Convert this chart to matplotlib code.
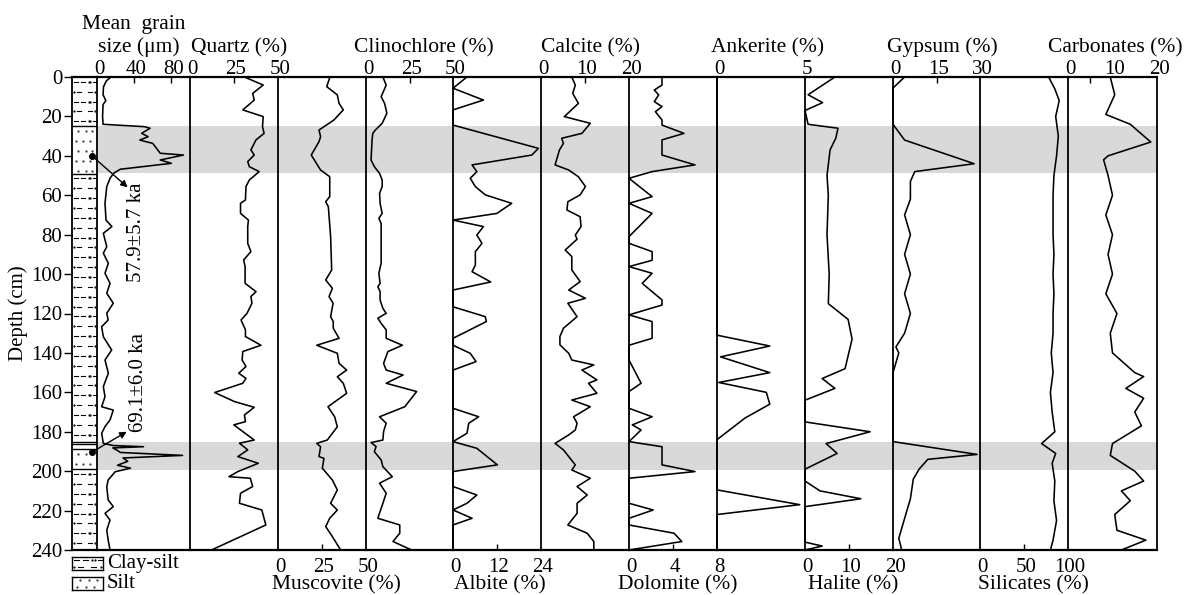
import matplotlib
matplotlib.use('Agg')
import matplotlib.pyplot as plt
from matplotlib.transforms import offset_copy

plt.rcParams['font.family'] = ['Liberation Serif', 'DejaVu Serif']

# ---------------- data ----------------
grain_depth = [0, 2, 5, 9, 12, 14, 20, 24, 25.2, 26, 28.6, 30.3, 32, 33.7, 36.2, 38.7, 39.6, 42.1, 43.8,
               46.8, 48.8, 51.4, 55.6, 64.1, 72.6, 75.9, 79.3, 86.1, 89.4, 94.5, 99.6, 104.7, 109.7, 114.8,
               119.9, 123.3, 126.7, 131.8, 138.5, 143.6, 150.3, 157.1, 162.2, 167.3, 169, 174, 177.4, 180.8,
               185.9, 187, 187.6, 188.2, 189.5, 190.5, 192, 193.3, 195, 197, 198.5, 200.3, 204.5, 207.9,
               214.6, 218, 221.4, 224.8, 229.9, 234.9, 240]
grain_size = [15, 10, 7, 6.5, 9.5, 6.5, 6, 6.5, 51, 57, 48, 55, 46, 60, 64, 68, 93, 68, 80,
              25, 18, 14, 10.5, 8.6, 9.7, 16, 6.8, 10.5, 6.8, 12.2, 8.6, 14, 10.5, 17.5,
              10.5, 12, 5, 6.8, 15.8, 8.6, 12.2, 6.8, 8.6, 5, 17.5, 14, 8.6, 5,
              6.8, 17.5, 50, 17, 22, 25, 92, 28, 33, 22, 36, 19.5, 12, 10.5,
              12, 17.5, 8.6, 14, 10.5, 12, 14]

quartz_depth = [0, 4.1, 8.3, 11.7, 16.7, 20.1, 25.2, 28.6, 31.9, 37.0, 39.6, 42.9, 45.5, 48.0, 52.3, 55.6,
                62.4, 64.1, 69.2, 72.6, 75.9, 84.4, 88.6, 92.8, 96.2, 104.7, 108.9, 111.4, 114.8, 119.9,
                123.3, 128.3, 131.7, 136.1, 139.3, 143.6, 146.9, 150.3, 152.9, 155.4, 160.1, 164.7, 167.6,
                171.5, 174.9, 176.5, 179.9, 184.2, 185.8, 189.2, 192.6, 196.0, 200.2, 202.8, 203.6, 207.8,
                211.2, 216.3, 219.7, 227.3, 240]
quartz = [30.9, 41.6, 35.6, 36.5, 30, 41.6, 41.2, 42.1, 37.5, 34.6, 36.5, 32.8, 33.7, 39.3, 33.7, 31.8,
          31.5, 28.7, 28.7, 33.2, 32.8, 32.8, 34.6, 30.5, 31.3, 31.3, 37.5, 34.6, 35.2, 32.4,
          29, 31.5, 31.5, 40.3, 30, 29.6, 31.8, 27.7, 31.8, 30, 14, 25.3, 36.5,
          30.9, 31.5, 24.9, 30, 36.5, 28.1, 32.8, 27.2, 38.8, 27.2, 22.1, 34.3, 35.6,
          28.7, 28.1, 40.8, 43.1, 12.2]

muscovite_depth = [0, 4.9, 9.1, 13.4, 16.7, 21.8, 26.9, 30.3, 32.8, 39.6, 42.9, 47.2, 50.6, 60.7, 63.3,
                   65.8, 81.0, 97.9, 103.0, 107.2, 111.4, 114.8, 121.6, 124.1, 127.5, 132.6, 136.1, 140.2,
                   145.3, 148.7, 152.1, 155.4, 160.5, 167.3, 172.4, 177.5, 184.2, 185.9, 187.6, 192.6, 193.5,
                   198.5, 204.5, 209.5, 216.3, 219.7, 223.9, 228.1, 233.2, 240]
muscovite = [29.5, 27.7, 33.7, 34.7, 37.1, 31.8, 23.3, 24.2, 23.3, 18.9, 21.2, 24.2, 29.4, 29.4, 27.1,
             28.6, 29.9, 30.5, 27.1, 30.9, 29, 31.3, 29.9, 31.4, 31.4, 34.7, 22, 33.7,
             34.7, 39, 33.7, 37.1, 39, 28.4, 32.2, 33.7, 28, 22, 24.2, 23.3, 26.1,
             25.2, 30.9, 33.7, 29.9, 33.7, 29.4, 27.1, 30.9, 35.6]

clino_depth = [0, 4.1, 10.0, 13.4, 18.4, 23.5, 26.9, 28.6, 31.9, 42.1, 45.5, 48.9, 52.3, 55.6, 59.0, 64.1,
               69.2, 71.7, 74.3, 77.6, 81.0, 94.5, 99.6, 104.7, 106.4, 108.9, 113.1, 117.4, 119.9, 122.4,
               125.0, 128.3, 132.6, 136.1, 139.3, 145.3, 148.7, 151.2, 155.4, 159.6, 167.3, 172.4, 175.7,
               179.9, 184.2, 185.5, 187.5, 190.1, 194.3, 197.7, 202.8, 206.1, 211.2, 216.3, 223.9, 227.3,
               231.5, 235.7, 240]
clinochlore = [9.7, 11.6, 8.7, 10.7, 12, 9.3, 5.4, 3.9, 3.5, 2.9, 4.8, 7.8, 9.3, 9.3, 7.8, 8.1,
               9.3, 7.4, 8.7, 8.7, 8.7, 8.7, 7.4, 8.1, 6.8, 8.1, 8.1, 9.7, 11.6, 6.8,
               8.7, 11.6, 11.6, 20.9, 12.6, 10.1, 11.6, 21.3, 11.6, 29.1, 22.3, 7.8, 11.6,
               10.1, 9.7, 2.9, 5.8, 4.8, 8.7, 9.7, 15.1, 7.8, 11.6, 9.7, 6.8, 19.4,
               19.4, 15.5, 26.2]

albite_depth = [0, 5.7, 11.7, 16.7, 24.4, 36.2, 39.6, 44.6, 48.0, 51.4, 55.6, 59.8, 64.1, 69.2, 72.6, 75.9,
                80.2, 84.4, 88.6, 95.4, 98.8, 104.0, 108.1, 116.6, 121.6, 124.1, 132.6, 136.1, 140.2, 144.4,
                148.7, 168.1, 172.4, 175.7, 180.8, 185.0, 188.4, 196.8, 200.2, 207.8, 212.1, 216.3, 219.7,
                223.9, 227.3, 240]
albite = [3.8, 0, 8.3, 0, 0, 23.3, 21.5, 5.2, 6.5, 4.7, 6.1, 8.8, 16, 12, 0, 8.3,
          6.5, 7.9, 6.1, 6.1, 5.2, 10.3, 0, 0, 8.8, 9.1, 0, 0, 4.7, 6.3,
          0, 0, 7, 4.3, 3.8, 0, 6.5, 12.1, 0, 0, 6.5, 3.8, 0,
          5.2, 0, 0]

calcite_depth = [0, 4.1, 8.3, 13.4, 20.1, 23.5, 28.6, 31.1, 33.7, 37.0, 44.6, 47.2, 50.6, 55.6, 59.8, 63.3,
                 67.5, 70.9, 75.9, 80.2, 82.3, 87.8, 91.1, 97.9, 103.8, 108.1, 112.3, 114.8, 121.6, 127.5,
                 131.7, 135.9, 140.2, 143.6, 146.1, 148.7, 153.7, 155.4, 160.5, 163.9, 167.3, 172.4, 175.7,
                 179.1, 181.6, 185.9, 189.2, 192.6, 196.8, 199.4, 203.6, 207.8, 212.1, 216.3, 221.4, 227.3,
                 231.5, 235.7, 240]
calcite = [7, 7.8, 7.2, 8.5, 5.3, 11.2, 9.3, 4.7, 5.1, 4.2, 3.2, 6.3, 8.5, 10.1, 8.9, 6.1,
           5.9, 8.9, 9.1, 7.8, 8.2, 5.5, 7, 7, 8.9, 6.3, 10.1, 6.1, 8.2, 5.1,
           4.3, 4.3, 6.3, 7, 12, 9.3, 12.7, 10.8, 12.7, 7, 11.2, 7.4, 8.2,
           7.8, 6.3, 3.2, 5.1, 6.3, 7.8, 7, 11.2, 8.2, 10.5, 8.2, 8.2, 6.1,
           10.5, 12, 12]

dolomite_depth = [0, 4.1, 6.6, 9.1, 12.5, 15.0, 17.6, 21.8, 24.4, 28.6, 31.9, 39.6, 44.6, 48.0, 51.4, 60.7,
                  64.1, 69.2, 81.0, 84.4, 88.6, 93.0, 96.2, 99.6, 104.7, 113.1, 115.7, 120.7, 124.1, 132.6,
                  136.1, 143.6, 155.4, 159.6, 168.1, 172.4, 176.5, 179.1, 185.0, 187.6, 196.8, 200.2, 203.6,
                  216.3, 219.7, 223.9, 227.3, 231.5, 235.7, 240]
dolomite = [3, 3, 2.3, 2.7, 2.3, 3, 2.4, 3, 3, 5, 3, 3, 6, 2.1, 0, 2.1,
            0, 2.1, 0, 0, 2.1, 2.1, 0, 2.1, 1.2, 3, 3, 0, 2.1, 2.1,
            0, 0, 1.1, 0, 0, 2.1, 0.3, 1.1, 0, 3, 3, 6, 0,
            0, 2.2, 0, 0, 4.1, 4.8, 0]

ankerite_depth = [0, 131, 136.5, 142, 150, 155, 160, 166, 173, 184, 209.5, 217, 222, 240]
ankerite = [0, 0, 3.0, 0.2, 3.0, 0.1, 2.8, 3.0, 1.6, 0, 0, 4.7, 0, 0]

halite_depth = [0, 9, 13, 17, 24, 26, 31, 37, 50, 60, 80, 100, 115, 123, 133, 148, 153, 158, 164,
                175, 180, 186, 191, 199, 205, 210, 214, 218, 236, 238, 240]
halite = [6.8, 0.7, 4, 0, 0.7, 7.5, 7, 5.7, 5, 5.3, 5, 5.5, 5.3, 9.8, 10.7, 9.1, 3.9, 6.8, 0,
          0, 14.8, 4.8, 7.3, 0, 0, 3.4, 12.7, 0, 0, 3.9, 0]

gypsum_depth = [0, 5.6, 24, 32, 44, 48, 53, 62, 70, 80, 90, 100, 110, 120, 130, 137, 140, 150, 160, 175,
                185, 191.5, 194, 199, 204, 214, 224, 234, 240]
gypsum = [4, 0, 0, 4, 28, 7.5, 6, 6, 4, 6, 4, 6, 4, 6, 4, 1, 2, 0, 0, 0,
          0, 29, 12, 9, 7, 6, 4, 2, 3]

silicate_depth = [0, 6, 12, 20, 30, 40, 50, 60, 70, 80, 90, 100, 110, 120, 130, 140, 150, 160, 170, 180,
                  186, 191, 196, 205, 215, 225, 235, 240]
silicates = [78, 85, 90, 86, 89, 87, 84, 83, 83, 83, 84, 83, 84, 83, 83, 81, 83, 80, 82, 85,
             70, 86, 82, 85, 84, 87, 83, 80]

carb_depth = [0, 9, 19, 24, 33, 40, 42, 50, 60, 70, 80, 90, 100, 110, 120, 130, 140, 150, 152, 158,
              163, 170, 177, 186, 192, 200, 205, 210, 215, 222, 230, 235, 240]
carbonates = [9.5, 10.5, 8.5, 14, 18.6, 9, 8, 9, 10, 8.5, 10, 9, 10, 8.5, 11, 9.5, 10, 15, 17, 13,
              17, 15, 16.5, 10, 9.5, 15, 17, 12, 14, 10.5, 11, 17.5, 12]

# lithology units (top, bottom, type)
lith_top = [0, 25, 49, 185.2, 186.3, 188.7, 199]
lith_bottom = [25, 49, 185.2, 186.3, 188.7, 199, 240]
lith_type = ['clay-silt', 'silt', 'clay-silt', 'clay-silt', 'clay-silt', 'silt', 'clay-silt']

bands = [(25, 48.5), (185, 199.5)]

# age dates
age_depth = [39.9, 190.4]
age_label = ['57.9\u00b15.7 ka', '69.1\u00b16.0 ka']

# ---------------- layout ----------------
W, H = 1191, 595
fig = plt.figure(figsize=(W / 100, H / 100), dpi=100)

TOP, BOT = 77, 550
edges = [97, 190, 278, 366, 453, 541, 629, 717, 805, 893, 980, 1068, 1157]


def add_ax(x0, x1):
    return fig.add_axes([x0 / W, 1 - BOT / H, (x1 - x0) / W, (BOT - TOP) / H])


FS = 15
TFS = 15.5
LW_SP = 1.3
band_color = '#d9d9d9'

panels = [
    (None, grain_depth, grain_size, 100, [0, 40, 80], 'top', [40, 80], None),
    ('Quartz (%)', quartz_depth, quartz, 50, [0, 25, 50], 'top', [25], 0.56),
    ('Muscovite (%)', muscovite_depth, muscovite, 50, [0, 25, 50], 'bottom', [25], 0.66),
    ('Clinochlore (%)', clino_depth, clinochlore, 50, [0, 25, 50], 'top', [25], 0.67),
    ('Albite (%)', albite_depth, albite, 24, [0, 12, 24], 'bottom', [12], 0.53),
    ('Calcite (%)', calcite_depth, calcite, 20, [0, 10, 20], 'top', [10], 0.56),
    ('Dolomite (%)', dolomite_depth, dolomite, 8, [0, 4, 8], 'bottom', [4], 0.55),
    ('Ankerite (%)', ankerite_depth, ankerite, 5, [0, 5], 'top', [], 0.58),
    ('Halite (%)', halite_depth, halite, 20, [0, 10, 20], 'bottom', [10], 0.55),
    ('Gypsum (%)', gypsum_depth, gypsum, 30, [0, 15, 30], 'top', [15], 0.57),
    ('Silicates (%)', silicate_depth, silicates, 100, [0, 50, 100], 'bottom', [50], 0.61),
    ('Carbonates (%)', carb_depth, carbonates, 20, [0, 10, 20], 'top', [5], 0.53),
]

axes = []
for i, (title, dep, val, xmax, ticks, where, minor, tfrac) in enumerate(panels):
    ax = add_ax(edges[i], edges[i + 1])
    axes.append(ax)
    ax.set_xlim(0, xmax)
    ax.set_ylim(240, 0)
    for y0, y1 in bands:
        ax.axhspan(y0, y1, color=band_color, lw=0, zorder=0)
    ax.plot(val, dep, color='black', lw=1.15, zorder=3, clip_on=False)
    ax.set_yticks([])
    ax.set_xticks(minor)
    ax.set_xticklabels([])
    ax.tick_params(axis='x', direction='in', length=4, width=1.0,
                   top=(where == 'top'), bottom=(where == 'bottom'))
    ax.spines['left'].set_linewidth(LW_SP)
    ax.spines['top'].set_linewidth(1.6)
    ax.spines['bottom'].set_linewidth(1.6)
    ax.spines['right'].set_visible(i == len(panels) - 1)
    ax.spines['right'].set_linewidth(LW_SP)
    ax.patch.set_alpha(0)
    tr = ax.get_xaxis_transform()
    if where == 'top':
        ttr = offset_copy(tr, fig=fig, x=2, y=3, units='dots')
        for t in ticks:
            ax.text(t, 1, str(t), transform=ttr, ha='center', va='baseline', fontsize=FS)
        if title:
            ax.text(tfrac, 1, title, transform=offset_copy(ax.transAxes, fig=fig, y=25, units='dots'),
                    ha='center', va='baseline', fontsize=TFS)
    else:
        ttr = offset_copy(tr, fig=fig, x=2, y=-22, units='dots')
        for t in ticks:
            ax.text(t, 0, str(t), transform=ttr, ha='center', va='baseline', fontsize=FS)
        ax.text(tfrac, 0, title, transform=offset_copy(ax.transAxes, fig=fig, y=-39, units='dots'),
                ha='center', va='baseline', fontsize=TFS)

gax = axes[0]
gax.text(0.45, 1, 'size (\u03bcm)', transform=offset_copy(gax.transAxes, fig=fig, y=25, units='dots'),
         ha='center', va='baseline', fontsize=TFS)
gax.text(0.39, 1, 'Mean  grain', transform=offset_copy(gax.transAxes, fig=fig, y=48, units='dots'),
         ha='center', va='baseline', fontsize=TFS)

# ---------------- lithology column ----------------
lax = add_ax(72, 97)
lax.set_xlim(0, 1)
lax.set_ylim(240, 0)
lax.patch.set_alpha(0)
lax.spines['left'].set_linewidth(LW_SP)
lax.spines['top'].set_linewidth(1.6)
lax.spines['bottom'].set_linewidth(1.6)
lax.spines['right'].set_visible(False)
lax.set_xticks([])
lax.set_yticks(range(0, 241, 20))
lax.tick_params(axis='y', direction='out', length=6, width=1.0, labelsize=FS, pad=1)
lax.set_ylabel('Depth (cm)', fontsize=FS, labelpad=2)


def draw_pattern(ax, top, bot, kind, step=5.0):
    y = top + step / 2
    k = 0
    while y < bot - 0.5:
        if kind == 'clay-silt':
            segs = [(0.06, 0.22), (0.36, 0.52), (0.84, 0.97)] if k % 2 == 0 else [(0.2, 0.36), (0.62, 0.78)]
            for a, b in segs:
                ax.plot([a, b], [y, y], color='black', lw=0.8, clip_on=True)
            dots = [0.66, 0.73] if k % 2 == 0 else [0.08, 0.92]
            ax.plot(dots, [y, y], ls='none', marker='.', ms=1.2, color='black')
        else:
            dots = [0.25, 0.55, 0.8] if k % 2 == 0 else [0.15, 0.45, 0.7]
            ax.plot(dots, [y] * len(dots), ls='none', marker='.', ms=1.2, color='#333333')
        y += step
        k += 1


for t, b, kind in zip(lith_top, lith_bottom, lith_type):
    draw_pattern(lax, t, b, kind)
    if t > 0:
        lax.axhline(t, color='black', lw=1.0)

# age markers
for d, lab, (tx, ty), (lx, ly) in zip(age_depth, age_label,
                                        [(33, 56), (32, 180)], [(42, 79), (45, 155)]):
    lax.plot([0.78], [d], marker='o', ms=4, color='black', clip_on=False, zorder=5)
    gax.annotate('', xy=(tx, ty), xytext=(-5.7, d), xycoords='data', textcoords='data',
                 arrowprops=dict(arrowstyle='-|>', color='black', lw=1.0, mutation_scale=10,
                                 shrinkA=0, shrinkB=0), annotation_clip=False, zorder=6)
    gax.text(lx, ly, lab, rotation=90, ha='center', va='center', fontsize=FS, zorder=6)

# ---------------- legend ----------------
for (y0, y1), kind, label in zip([(557, 570), (577, 590)], ['clay-silt', 'silt'], ['Clay-silt', 'Silt']):
    leg = fig.add_axes([72 / W, 1 - y1 / H, 31 / W, (y1 - y0) / H])
    leg.set_xlim(0, 1)
    leg.set_ylim(10, 0)
    leg.set_xticks([])
    leg.set_yticks([])
    for s in leg.spines.values():
        s.set_linewidth(1.0)
    draw_pattern(leg, 0, 10, kind, step=5.0)
    fig.text(107 / W, 1 - (y0 + y1) / 2 / H, label, ha='left', va='center', fontsize=FS)

fig.savefig('out.png', dpi=100)
